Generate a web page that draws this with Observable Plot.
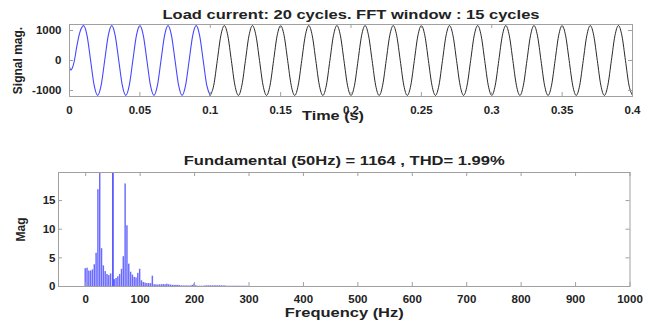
<!DOCTYPE html>
<html><head><meta charset="utf-8">
<script src="https://cdn.jsdelivr.net/npm/d3@7"></script>
<script src="https://cdn.jsdelivr.net/npm/@observablehq/plot@0.6"></script>
<style>
body{margin:0;background:#fff;}
#wrap{position:relative;width:664px;height:325px;overflow:hidden;background:#fff;}
#wrap svg{position:absolute;left:0;}
</style></head><body><div id="wrap"></div>
<script>
// ---------- data ----------
const topTitle = "Load current: 20 cycles. FFT window : 15 cycles";
const bottomTitle = "Fundamental (50Hz) = 1164 , THD= 1.99%";
const timeLabel = "Time (s)";
const signalLabel = "Signal mag.";
const freqLabel = "Frequency (Hz)";
const magLabel = "Mag";

const timeTicks = [0, 0.05, 0.1, 0.15, 0.2, 0.25, 0.3, 0.35, 0.4];
const signalTicks = [-1000, 0, 1000];
const freqTicks = [0, 100, 200, 300, 400, 500, 600, 700, 800, 900, 1000];
const magTicks = [0, 5, 10, 15];

// start-up transient (first half cycle)
const transientT = [0, 0.001, 0.002, 0.0035, 0.005, 0.0075];
const transientV = [-220, -320, -250, 0, 420, 960];
// steady samples every 2.5 ms from t = 10 ms to 400 ms
const steadyStart = 0.01, steadyStep = 0.0025;
const steadyV = [
 1164, 823, 0, -823, -1164, -823, 0, 823,
 1164, 823, 0, -823, -1164, -823, 0, 823,
 1164, 823, 0, -823, -1164, -823, 0, 823,
 1164, 823, 0, -823, -1164, -823, 0, 823,
 1164, 823, 0, -823, -1164, -823, 0, 823,
 1164, 823, 0, -823, -1164, -823, 0, 823,
 1164, 823, 0, -823, -1164, -823, 0, 823,
 1164, 823, 0, -823, -1164, -823, 0, 823,
 1164, 823, 0, -823, -1164, -823, 0, 823,
 1164, 823, 0, -823, -1164, -823, 0, 823,
 1164, 823, 0, -823, -1164, -823, 0, 823,
 1164, 823, 0, -823, -1164, -823, 0, 823,
 1164, 823, 0, -823, -1164, -823, 0, 823,
 1164, 823, 0, -823, -1164, -823, 0, 823,
 1164, 823, 0, -823, -1164, -823, 0, 823,
 1164, 823, 0, -823, -1164, -823, 0, 823,
 1164, 823, 0, -823, -1164, -823, 0, 823,
 1164, 823, 0, -823, -1164, -823, 0, 823,
 1164, 823, 0, -823, -1164, -823, 0, 823,
 1164, 823, 0, -823, -1164
];
const highlightEnd = 0.1; // blue part of the signal

// spectrum: bins every 1/0.3 s = 3.333 Hz
const freqStep = 10 / 3;
const fundamentalHz = 50;
const specMag = [
 3.1, 3.2, 2.7, 2.7, 2.9, 3.8, 5.8, 16.9, 24, 6.6,
 3.6, 2.6, 2.1, 1.9, 2.2, 1164, 1.2, 1.4, 1.7, 2.1,
 3.0, 5.2, 17.9, 10.6, 3.9, 2.5, 2.0, 1.6, 1.5, 2.3,
 3.0, 1.0, 0.7, 0.6, 0.5, 0.5, 0.5, 1.8, 0.3, 0.3,
 0.25, 0.3, 0.3, 0.35, 0.3, 0.4, 0.3, 0.25, 0.2, 0.2,
 0.2, 0.2, 0.15, 0.1, 0.1, 0.1, 0.1, 0.08, 0.1, 0.2,
 0.45, 0.12, 0.05, 0.05, 0.05, 0.05, 0.1, 0.12, 0.12, 0.12,
 0.12, 0.12, 0.12, 0.12, 0.12, 0.12, 0.1, 0.1, 0.05, 0.05,
 0.05, 0.05, 0.05, 0.05, 0.05, 0.05, 0.05, 0.05, 0.05, 0.05
];

// ---------- build tables ----------
const signal = transientT.map((t, i) => ({t, v: transientV[i]}))
  .concat(steadyV.map((v, i) => ({t: steadyStart + i * steadyStep, v})));
const sigBlue = signal.filter(d => d.t <= highlightEnd + 1e-9);
const sigBlack = signal.filter(d => d.t >= highlightEnd - 1e-9);
const spec = specMag.map((m, k) => ({f: k * freqStep, m}));
const fundamental = spec.filter(d => Math.abs(d.f - fundamentalHz) < 1e-6);
const harmonics = spec.filter(d => Math.abs(d.f - fundamentalHz) >= 1e-6);

const FONT = "'Liberation Sans', Arial, Helvetica, sans-serif";
const INK = "#222";
const BOX = "#a0a0a0";
const baseStyle = {fontFamily: FONT, fontSize: "11.5px", fontWeight: "bold", color: INK, background: "transparent", overflow: "visible"};
const txt = {fontWeight: "bold", fill: INK, textAnchor: "middle", lineAnchor: "middle"};

// ---------- top: time signal ----------
const T = {w: 664, h: 130, ml: 69, mr: 32, mt: 24, mb: 34};
const tfw = T.w - T.ml - T.mr, tfh = T.h - T.mt - T.mb;
const topPlot = Plot.plot({
  width: T.w, height: T.h,
  marginLeft: T.ml, marginRight: T.mr, marginTop: T.mt, marginBottom: T.mb,
  style: baseStyle,
  x: {domain: [0, 0.4]},
  y: {domain: [-1200, 1200]},
  marks: [
    Plot.line(sigBlue, {x: "t", y: "v", stroke: "#4646ff", strokeWidth: 1.1, curve: "monotone-x", clip: true}),
    Plot.line(sigBlack, {x: "t", y: "v", stroke: "#2a2a2a", strokeWidth: 1, curve: "monotone-x", clip: true}),
    Plot.frame({stroke: BOX}),
    Plot.ruleX(timeTicks, {x: d => d, insetTop: tfh - 4, stroke: BOX}),
    Plot.ruleX(timeTicks, {x: d => d, insetBottom: tfh - 4, stroke: BOX}),
    Plot.ruleY(signalTicks, {y: d => d, insetRight: tfw - 4, stroke: BOX}),
    Plot.ruleY(signalTicks, {y: d => d, insetLeft: tfw - 4, stroke: BOX}),
    Plot.axisX(timeTicks, {tickSize: 0, tickPadding: 9, tickFormat: d => String(d), label: null}),
    Plot.axisY(signalTicks, {tickSize: 0, tickPadding: 8, tickFormat: d => String(d), label: null}),
    Plot.text([topTitle], {...txt, frameAnchor: "top", dy: -10, fontSize: 12.5}),
    Plot.text([timeLabel], {...txt, frameAnchor: "bottom", dy: 20, dx: -18, fontSize: 12}),
    Plot.text([signalLabel], {...txt, frameAnchor: "left", rotate: -90, dx: -51, fontSize: 12})
  ]
});
topPlot.style.top = "0px";

// ---------- bottom: spectrum ----------
const B = {w: 664, h: 185, ml: 58, mr: 34.5, mt: 32, mb: 39};
const bfw = B.w - B.ml - B.mr, bfh = B.h - B.mt - B.mb;
const bottomPlot = Plot.plot({
  width: B.w, height: B.h,
  marginLeft: B.ml, marginRight: B.mr, marginTop: B.mt, marginBottom: B.mb,
  style: baseStyle,
  x: {domain: [-50, 1000]},
  y: {domain: [0, 19.9]},
  marks: [
    Plot.rectY(harmonics, {x1: d => d.f - freqStep * 0.4, x2: d => d.f + freqStep * 0.4, y: "m", fill: "#6a6aff", clip: true}),
    Plot.ruleX(fundamental, {x: "f", y1: 0, y2: "m", stroke: "#1c1cff", strokeWidth: 1.3, clip: true}),
    Plot.frame({stroke: BOX}),
    Plot.ruleX(freqTicks, {x: d => d, insetTop: bfh - 4, stroke: BOX}),
    Plot.ruleX(freqTicks, {x: d => d, insetBottom: bfh - 4, stroke: BOX}),
    Plot.ruleY(magTicks, {y: d => d, insetRight: bfw - 4, stroke: BOX}),
    Plot.ruleY(magTicks, {y: d => d, insetLeft: bfw - 4, stroke: BOX}),
    Plot.axisX(freqTicks, {tickSize: 0, tickPadding: 8, tickFormat: d => String(d), label: null}),
    Plot.axisY(magTicks, {tickSize: 0, tickPadding: 3, tickFormat: d => String(d), label: null}),
    Plot.text([bottomTitle], {...txt, frameAnchor: "top", dy: -12, fontSize: 12.5}),
    Plot.text([freqLabel], {...txt, frameAnchor: "bottom", dy: 27, fontSize: 12}),
    Plot.text([magLabel], {...txt, frameAnchor: "left", rotate: -90, dx: -37.5, fontSize: 12})
  ]
});
bottomPlot.style.top = "140px";

const wrap = document.getElementById("wrap");
wrap.appendChild(topPlot);
wrap.appendChild(bottomPlot);

// widen horizontal titles/labels to the reference's stretched lettering
const stretch = new Map([[topTitle, 377], [timeLabel, 62], [bottomTitle, 321], [freqLabel, 119]]);
for (const svg of [topPlot, bottomPlot]) {
  svg.querySelectorAll("text").forEach(el => {
    const w = stretch.get(el.textContent);
    if (w) { el.setAttribute("textLength", w); el.setAttribute("lengthAdjust", "spacingAndGlyphs"); }
  });
}
</script></body></html>
